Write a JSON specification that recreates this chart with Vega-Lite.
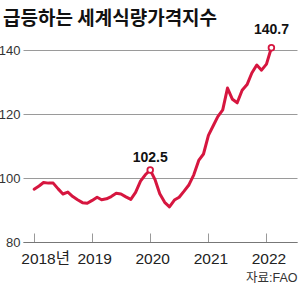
{
  "$schema": "https://vega.github.io/schema/vega-lite/v6.json",
  "autosize": "none",
  "width": 274,
  "height": 200,
  "padding": {"left": 23, "top": 42, "right": 1, "bottom": 47},
  "background": "white",
  "config": {"view": {"stroke": null}},
  "title": {"text": "급등하는 세계식량가격지수", "anchor": "start", "frame": "group", "dx": -20, "offset": 0, "dy": 21, "fontSize": 19, "font": "Noto Sans CJK KR", "fontWeight": "bold", "color": "#111111", "baseline": "alphabetic"},
  "data": {"values": [
    {"date": "2018-01-01", "value": 96.5},
    {"date": "2018-02-01", "value": 97.5},
    {"date": "2018-03-01", "value": 98.6},
    {"date": "2018-04-01", "value": 98.4},
    {"date": "2018-05-01", "value": 98.4},
    {"date": "2018-06-01", "value": 96.6},
    {"date": "2018-07-01", "value": 95.0},
    {"date": "2018-08-01", "value": 95.6},
    {"date": "2018-09-01", "value": 94.2},
    {"date": "2018-10-01", "value": 93.2},
    {"date": "2018-11-01", "value": 92.3},
    {"date": "2018-12-01", "value": 92.1},
    {"date": "2019-01-01", "value": 93.0},
    {"date": "2019-02-01", "value": 94.0},
    {"date": "2019-03-01", "value": 93.2},
    {"date": "2019-04-01", "value": 93.5},
    {"date": "2019-05-01", "value": 94.2},
    {"date": "2019-06-01", "value": 95.2},
    {"date": "2019-07-01", "value": 95.0},
    {"date": "2019-08-01", "value": 94.1},
    {"date": "2019-09-01", "value": 93.3},
    {"date": "2019-10-01", "value": 95.5},
    {"date": "2019-11-01", "value": 99.0},
    {"date": "2019-12-01", "value": 101.0},
    {"date": "2020-01-01", "value": 102.5},
    {"date": "2020-02-01", "value": 99.4},
    {"date": "2020-03-01", "value": 95.1},
    {"date": "2020-04-01", "value": 92.4},
    {"date": "2020-05-01", "value": 91.0},
    {"date": "2020-06-01", "value": 93.1},
    {"date": "2020-07-01", "value": 94.0},
    {"date": "2020-08-01", "value": 95.9},
    {"date": "2020-09-01", "value": 97.9},
    {"date": "2020-10-01", "value": 101.0},
    {"date": "2020-11-01", "value": 105.5},
    {"date": "2020-12-01", "value": 107.5},
    {"date": "2021-01-01", "value": 113.3},
    {"date": "2021-02-01", "value": 116.4},
    {"date": "2021-03-01", "value": 119.2},
    {"date": "2021-04-01", "value": 121.3},
    {"date": "2021-05-01", "value": 128.1},
    {"date": "2021-06-01", "value": 124.6},
    {"date": "2021-07-01", "value": 123.5},
    {"date": "2021-08-01", "value": 127.4},
    {"date": "2021-09-01", "value": 129.2},
    {"date": "2021-10-01", "value": 132.8},
    {"date": "2021-11-01", "value": 135.3},
    {"date": "2021-12-01", "value": 133.7},
    {"date": "2022-01-01", "value": 135.6},
    {"date": "2022-02-01", "value": 140.7}
  ]},
  "encoding": {
    "x": {"field": "date", "type": "temporal",
      "scale": {"type": "utc", "domain": [{"year": 2017, "month": 10, "date": 23, "utc": true}, {"year": 2022, "month": 7, "date": 12, "utc": true}]},
      "axis": {
        "values": [{"year": 2018, "utc": true}, {"year": 2019, "utc": true}, {"year": 2020, "utc": true}, {"year": 2021, "utc": true}, {"year": 2022, "utc": true}],
        "labelExpr": "utcFormat(datum.value, '%Y') + (utcyear(datum.value) == 2018 ? '년' : '')",
        "labelOffset": {"condition": {"test": "utcyear(datum.value) == 2018", "value": 11}, "value": 2},
        "labelOverlap": false, "labelBound": false,
        "grid": false, "domain": true, "domainColor": "#777777", "domainWidth": 1,
        "ticks": true, "tickColor": "#999999", "tickSize": -9,
        "labelPadding": 18, "labelFont": "Liberation Sans, Noto Sans CJK KR", "labelFontSize": 15.5, "labelColor": "#222222", "labelBaseline": "top",
        "title": "자료:FAO", "titleAnchor": "end", "titleAlign": "right", "titleFont": "Liberation Sans, Noto Sans CJK KR", "titleFontSize": 12.5, "titleFontWeight": "normal", "titleColor": "#333333", "titlePadding": 5
      }
    },
    "y": {"field": "value", "type": "quantitative",
      "scale": {"domain": [80, 142.5], "nice": false, "zero": false},
      "axis": {"values": [80, 100, 120, 140], "grid": true, "gridColor": "#9a9a9a", "gridWidth": 1, "domain": false, "ticks": false, "labelPadding": 3, "labelFont": "Liberation Sans", "labelFontSize": 13, "labelColor": "#333333", "title": null}
    }
  },
  "layer": [
    {"mark": {"type": "line", "color": "#d6163f", "strokeWidth": 3, "strokeJoin": "round", "strokeCap": "round"}},
    {"transform": [{"filter": "datum.value == 102.5 || datum.value == 140.7"}],
     "mark": {"type": "point", "filled": true, "fill": "white", "stroke": "#d6163f", "strokeWidth": 1.8, "size": 32, "opacity": 1}},
    {"transform": [{"filter": "datum.value == 102.5"}],
     "mark": {"type": "text", "dy": -8, "baseline": "alphabetic", "align": "center", "font": "Liberation Sans", "fontSize": 14, "fontWeight": "bold", "color": "#111111"},
     "encoding": {"text": {"field": "value", "type": "quantitative", "format": ".1f"}}},
    {"transform": [{"filter": "datum.value == 140.7"}],
     "mark": {"type": "text", "dy": -14, "baseline": "alphabetic", "align": "center", "font": "Liberation Sans", "fontSize": 14, "fontWeight": "bold", "color": "#111111"},
     "encoding": {"text": {"field": "value", "type": "quantitative", "format": ".1f"}}}
  ]
}
